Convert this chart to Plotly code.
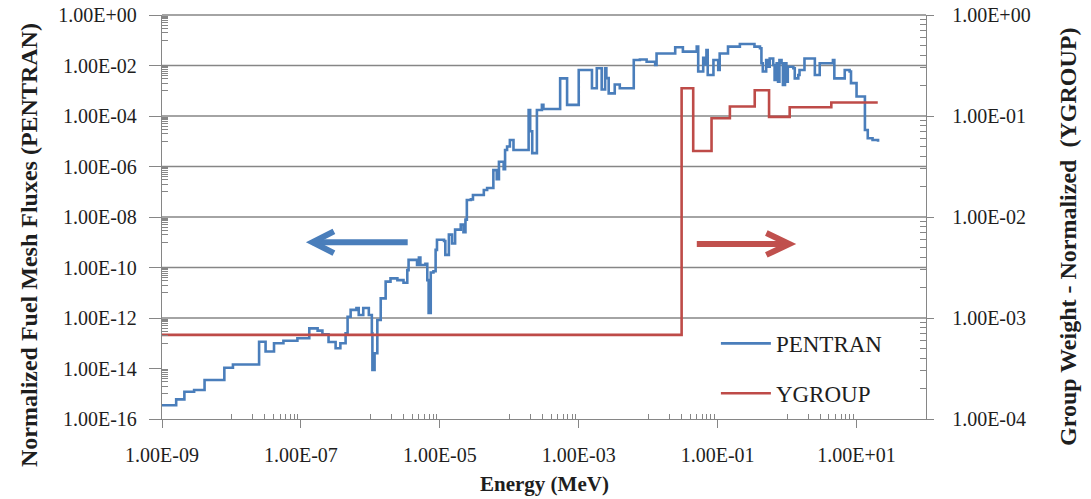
import plotly.graph_objects as go

# ---------------- data ----------------
pentran_energy_mev = [
    1.0e-9, 1.6e-9, 2.1e-9, 2.9e-9, 4.1e-9, 7.9e-9, 1.05e-8, 2.5e-8, 3.1e-8, 4.1e-8,
    5.6e-8, 8.9e-8, 1.32e-7, 1.74e-7, 2.04e-7, 2.5e-7, 3.16e-7, 3.7e-7, 4.4e-7, 4.7e-7,
    5.2e-7, 6.3e-7, 6.8e-7, 7.9e-7, 9.5e-7, 1.05e-6, 1.07e-6, 1.15e-6, 1.26e-6, 1.41e-6,
    1.66e-6, 1.95e-6, 2.45e-6, 3.0e-6, 3.4e-6, 3.55e-6, 4.7e-6, 5.0e-6, 5.25e-6, 6.2e-6,
    6.6e-6, 6.9e-6, 7.4e-6, 8.1e-6, 8.7e-6, 9.1e-6, 1.15e-5, 1.2e-5, 1.35e-5, 1.5e-5,
    1.66e-5, 2.0e-5, 2.19e-5, 2.34e-5, 2.45e-5, 2.8e-5, 3.0e-5, 4.3e-5, 4.8e-5, 5.9e-5,
    6.6e-5, 7.1e-5, 8.3e-5, 8.7e-5, 9.3e-5, 1.02e-4, 1.15e-4, 1.9e-4, 2.0e-4, 2.14e-4,
    2.5e-4, 2.95e-4, 3.1e-4, 5.4e-4, 6.8e-4, 1.0e-3, 1.55e-3, 1.82e-3, 2.14e-3, 2.4e-3,
    2.5e-3, 2.7e-3, 3.3e-3, 3.9e-3, 6.2e-3, 7.6e-3, 9.5e-3, 1.26e-2, 1.32e-2, 2.45e-2,
    3.16e-2, 5.0e-2, 5.25e-2, 6.2e-2, 6.6e-2, 6.9e-2, 7.2e-2, 8.7e-2, 0.102, 0.107,
    0.141, 0.209, 0.339, 0.407, 0.427, 0.447, 0.50, 0.537, 0.562, 0.631,
    0.661, 0.708, 0.741, 0.776, 0.832, 0.871, 0.933, 0.977, 1.023, 1.23,
    1.29, 1.45, 1.51, 1.78, 2.51, 2.95, 4.57, 4.79, 6.76, 7.94,
    8.32, 10.0, 13.2, 14.5, 17.0, 20.4,
]
pentran_flux = [
    3.5e-16, 6.0e-16, 1.2e-15, 1.4e-15, 3.5e-15, 1.07e-14, 1.45e-14, 1.15e-13, 4.7e-14, 1.0e-13,
    1.26e-13, 1.58e-13, 3.9e-13, 3.16e-13, 2.24e-13, 1.12e-13, 6.3e-14, 1.0e-13, 2.5e-13, 1.12e-12,
    2.1e-12, 2.5e-12, 1.32e-12, 2.5e-12, 1.32e-12, 2.5e-13, 8.7e-15, 4.0e-14, 8.3e-13, 6.0e-12,
    2.75e-11, 3.7e-11, 3.16e-11, 2.5e-11, 7.9e-11, 2.0e-10, 1.26e-10, 2.5e-10, 1.26e-10, 1.41e-10,
    3.16e-11, 1.58e-12, 6.3e-11, 7.1e-11, 5.0e-10, 1.26e-9, 1.12e-9, 3.16e-10, 2.0e-9, 8.9e-10,
    3.16e-9, 5.0e-9, 2.5e-9, 7.9e-9, 4.7e-8, 5.0e-8, 7.4e-8, 1.17e-7, 1.41e-7, 7.2e-7,
    3.16e-7, 1.55e-6, 7.9e-7, 4.5e-6, 6.2e-6, 1.12e-5, 4.5e-6, 1.74e-4, 2.5e-5, 3.4e-6,
    1.74e-4, 2.75e-4, 1.9e-4, 3.1e-3, 2.75e-4, 6.6e-3, 1.26e-3, 7.8e-3, 1.12e-3, 7.8e-3,
    3.16e-3, 7.9e-4, 1.78e-3, 1.26e-3, 1.66e-2, 1.74e-2, 1.41e-2, 1.05e-2, 3.0e-2, 5.25e-2,
    3.55e-2, 5.6e-2, 5.75e-3, 2.0e-2, 1.1e-2, 4.1e-2, 4.2e-3, 1.66e-2, 6.6e-3, 3.0e-2,
    5.6e-2, 7.1e-2, 5.6e-2, 4.8e-2, 1.23e-2, 5.75e-3, 1.66e-2, 8.9e-3, 1.9e-2, 1.05e-2,
    2.7e-3, 1.23e-2, 2.3e-3, 1.66e-2, 1.23e-2, 1.7e-3, 1.23e-2, 2.3e-3, 8.9e-3, 7.8e-3,
    3.1e-3, 4.2e-3, 6.6e-3, 1.9e-2, 4.2e-3, 1.23e-2, 1.66e-2, 3.1e-3, 6.6e-3, 5.75e-3,
    2.0e-3, 5.9e-4, 2.8e-5, 1.32e-5, 1.12e-5, 9.5e-6,
]
ygroup_energy_mev = [1.0e-9, 0.0303, 0.0445, 0.0817, 0.150, 0.342, 0.55, 1.09, 4.33, 20.2]
ygroup_weight = [6.8e-4, 0.188, 0.045, 0.095, 0.124, 0.18, 0.098, 0.122, 0.136, 0.136]

x_tick_vals = [1e-9, 1e-7, 1e-5, 1e-3, 1e-1, 1e1]
x_tick_text = ["1.00E-09", "1.00E-07", "1.00E-05", "1.00E-03", "1.00E-01", "1.00E+01"]
y_tick_vals = [1e0, 1e-2, 1e-4, 1e-6, 1e-8, 1e-10, 1e-12, 1e-14, 1e-16]
y_tick_text = ["1.00E+00", "1.00E-02", "1.00E-04", "1.00E-06", "1.00E-08",
               "1.00E-10", "1.00E-12", "1.00E-14", "1.00E-16"]
y2_tick_vals = [1e0, 1e-1, 1e-2, 1e-3, 1e-4]
y2_tick_text = ["1.00E+00", "1.00E-01", "1.00E-02", "1.00E-03", "1.00E-04"]

# ---------------- style ----------------
FONT = "Liberation Serif, Times New Roman, serif"
BLUE = "#4A7EBB"
RED = "#BE4B48"
AXIS = "#868686"
TEXT = "#1e1e1e"

x_minor = [k * 10.0 ** e for e in (-8, -6, -4, -2, 0) for k in range(1, 10)]
y_minor = [k * 10.0 ** e for e in (-1, -3, -5, -7, -9, -11, -13, -15) for k in range(1, 10)]
y2_minor = [k * 10.0 ** e for e in (-4, -3, -2, -1) for k in range(2, 10)]

fig = go.Figure()
fig.add_trace(go.Scatter(
    x=pentran_energy_mev, y=pentran_flux, name="PENTRAN", mode="lines",
    line=dict(color=BLUE, width=2.6, shape="hv"), yaxis="y",
    legend="legend", showlegend=True,
))
fig.add_trace(go.Scatter(
    x=ygroup_energy_mev, y=ygroup_weight, name="YGROUP", mode="lines",
    line=dict(color=RED, width=2.6, shape="hv"), yaxis="y2",
    legend="legend2", showlegend=True,
))

# horizontal gridlines (the reference draws them from 1E+00 down to 1E-12 only)
for k in range(7):
    fig.add_shape(type="line", xref="paper", yref="paper", x0=0, x1=1,
                  y0=1 - k / 8, y1=1 - k / 8, line=dict(color=AXIS, width=1.3),
                  layer="below")

# direction arrows
def chevron_arrow(tail_x, tip_x, y, color, arm_dx, arm_dy):
    fig.add_shape(type="line", xref="paper", yref="paper", x0=tail_x, x1=tip_x,
                  y0=y, y1=y, line=dict(color=color, width=6))
    fig.add_shape(type="path", xref="paper", yref="paper",
                  path=f"M {tip_x + arm_dx} {y + arm_dy} L {tip_x} {y} L {tip_x + arm_dx} {y - arm_dy}",
                  line=dict(color=color, width=6))

chevron_arrow(0.3216, 0.197, 0.4374, BLUE, 0.028, 0.027)
chevron_arrow(0.700, 0.821, 0.4332, "#C0504D", -0.030, 0.027)

# axis titles placed like the reference
title_font = dict(family=FONT, size=24, weight="bold", color=TEXT)
fig.add_annotation(text="Normalized Fuel Mesh Fluxes (PENTRAN)", textangle=-90,
                   xref="paper", yref="paper", x=(29 - 162) / 764, y=(419 - 245) / 404,
                   xanchor="center", yanchor="middle", showarrow=False, font=title_font)
fig.add_annotation(text="Group Weight - Normalized  (YGROUP)", textangle=-90,
                   xref="paper", yref="paper", x=(1068 - 162) / 764, y=(419 - 237) / 404,
                   xanchor="center", yanchor="middle", showarrow=False, font=title_font)
fig.add_annotation(text="Energy (MeV)", xref="paper", yref="paper",
                   x=0.5, y=(419 - 484) / 404, xanchor="center", yanchor="middle",
                   showarrow=False,
                   font=dict(family=FONT, size=21, weight="bold", color=TEXT))

tickfont = dict(family=FONT, size=20, color=TEXT)
fig.update_layout(
    width=1091, height=499, autosize=False,
    margin=dict(l=162, r=165, t=15, b=80),
    paper_bgcolor="white", plot_bgcolor="white",
    font=dict(family=FONT, color=TEXT),
    showlegend=True,
    xaxis=dict(
        type="log", range=[-9, 2], showgrid=False, zeroline=False, automargin=False,
        showline=True, linecolor=AXIS, linewidth=1.3,
        tickmode="array", tickvals=x_tick_vals, ticktext=x_tick_text,
        ticks="outside", ticklen=8, tickcolor=AXIS, tickwidth=1.3,
        tickfont=tickfont, ticklabelstandoff=10,
        minor=dict(tickmode="array", tickvals=x_minor, ticks="inside",
                   ticklen=5, tickcolor=AXIS, tickwidth=1, showgrid=False),
    ),
    yaxis=dict(
        type="log", range=[-16, 0], showgrid=False, zeroline=False, automargin=False,
        showline=True, linecolor=AXIS, linewidth=1.3,
        tickmode="array", tickvals=y_tick_vals, ticktext=y_tick_text,
        ticks="outside", ticklen=12, tickcolor=AXIS, tickwidth=1.3,
        tickfont=tickfont, ticklabelstandoff=8,
        minor=dict(tickmode="array", tickvals=y_minor, ticks="inside",
                   ticklen=6, tickcolor=AXIS, tickwidth=1, showgrid=False),
    ),
    yaxis2=dict(
        type="log", range=[-4, 0], overlaying="y", side="right", anchor="x",
        showgrid=False, zeroline=False, automargin=False,
        showline=True, linecolor=AXIS, linewidth=1.3,
        tickmode="array", tickvals=y2_tick_vals, ticktext=y2_tick_text,
        ticks="outside", ticklen=7, tickcolor=AXIS, tickwidth=1.3,
        tickfont=tickfont, ticklabelstandoff=14,
        minor=dict(tickmode="array", tickvals=y2_minor, ticks="inside",
                   ticklen=6, tickcolor=AXIS, tickwidth=1, showgrid=False),
    ),
    legend=dict(x=0.725, y=0.187, xanchor="left", yanchor="middle", visible=True,
                bgcolor="rgba(0,0,0,0)", itemwidth=50,
                font=dict(family=FONT, size=23, color=TEXT)),
    legend2=dict(x=0.725, y=0.0636, xanchor="left", yanchor="middle", visible=True,
                 bgcolor="rgba(0,0,0,0)", itemwidth=50,
                 font=dict(family=FONT, size=23, color=TEXT)),
)

fig.write_html("out.html")
